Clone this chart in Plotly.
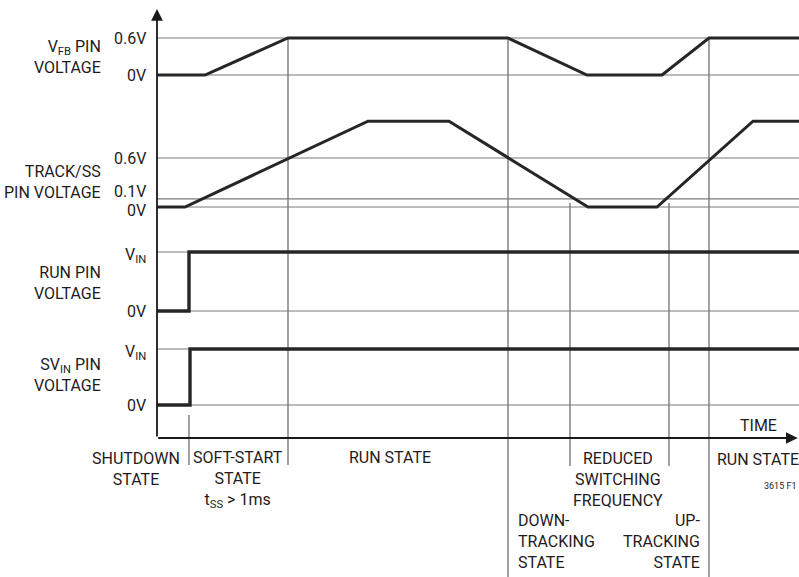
import plotly.graph_objects as go

# ---------------- data (time in arbitrary units, voltages per pin) ----------------
TIME_VFB = [0, 4.8, 13.1, 35.1, 43.0, 50.5, 55.2, 64.2]
V_FB = [0, 0, 0.6, 0.6, 0, 0, 0.6, 0.6]

TIME_TRACK = [0, 2.8, 21.1, 29.2, 43.1, 50.0, 59.6, 64.2]
V_TRACK = [0, 0, 1.05, 1.05, 0, 0, 1.05, 1.05]

TIME_RUN = [0, 3.2, 3.2, 64.2]
V_RUN = [0, 0, 1, 1]          # 1 = V_IN

TIME_SVIN = [0, 3.3, 3.3, 64.2]
V_SVIN = [0, 0, 1, 1]         # 1 = V_IN

LEVELS_VFB = [0, 0.6]
TICKS_VFB = ["0V", "0.6V"]
LEVELS_TRACK = [0, 0.1, 0.6]
TICKS_TRACK = ["0V", "0.1V", "0.6V"]
LEVELS_RUN = [0, 1]
TICKS_RUN = ["0V", "V<sub>IN</sub>"]
LEVELS_SVIN = [0, 1]
TICKS_SVIN = ["0V", "V<sub>IN</sub>"]

NAMES = ["V<sub>FB</sub> PIN<br>VOLTAGE", "TRACK/SS<br>PIN VOLTAGE",
         "RUN PIN<br>VOLTAGE", "SV<sub>IN</sub> PIN<br>VOLTAGE"]

T_END = 64.2

# ---------------- layout geometry ----------------
W, H = 799, 577
LEFT = 157
AXIS_PX = 438            # pixel row of the time axis (bottom of plot area)
FONT = "Roboto, Liberation Sans, sans-serif"
FS = 16
TXT = "#1f1b1c"
TRACE = "#262626"
GRID = "#7a7a7a"


def py(p):
    """pixel row -> paper fraction"""
    return (AXIS_PX - p) / AXIS_PX


def tx(t):
    """time -> paper fraction"""
    return t / T_END


# (axis, zero-level pixel row, reference-level pixel row, reference value)
PANELS = [("y", 75, 38, 0.6), ("y2", 207, 158, 0.6),
          ("y3", 311, 252, 1.0), ("y4", 405, 349, 1.0)]

series = [(TIME_VFB, V_FB), (TIME_TRACK, V_TRACK), (TIME_RUN, V_RUN), (TIME_SVIN, V_SVIN)]
levels = [LEVELS_VFB, LEVELS_TRACK, LEVELS_RUN, LEVELS_SVIN]
ticks = [TICKS_VFB, TICKS_TRACK, TICKS_RUN, TICKS_SVIN]
name_pos = [0.3, 0.31, 0.47, 0.53]
widths = [3, 3, 3.4, 3.4]

fig = go.Figure()
shapes = []
annotations = []

for i, (ax, p0, p1, v1) in enumerate(PANELS):
    ppu = (p0 - p1) / v1
    rng = [-(AXIS_PX - p0) / ppu, p0 / ppu]
    key = "yaxis" if ax == "y" else "yaxis" + ax[1:]
    cfg = dict(range=rng, visible=False, domain=[0, 1], fixedrange=True)
    if ax != "y":
        cfg["overlaying"] = "y"
    fig.update_layout({key: cfg})

    t, v = series[i]
    fig.add_trace(go.Scatter(x=t, y=v, mode="lines", yaxis=ax,
                             line=dict(color=TRACE, width=widths[i]),
                             hoverinfo="skip", showlegend=False))

    for lv, lab in zip(levels[i], ticks[i]):
        shapes.append(dict(type="line", xref="paper", yref=ax, x0=0, x1=1,
                           y0=lv, y1=lv, line=dict(color=GRID, width=1.2), layer="below"))
        ys = 0
        if "sub" in lab:
            ys = -3
        elif lab == "0.1V":
            ys = 7
        elif lab == "0V" and i == 1:
            ys = -3
        annotations.append(dict(xref="paper", yref=ax, x=0, y=lv, xanchor="right",
                                yanchor="middle", xshift=-9, yshift=ys,
                                text=lab, showarrow=False,
                                font=dict(family=FONT, size=FS, color=TXT)))
    annotations.append(dict(xref="paper", yref=ax, x=0, y=name_pos[i],
                            xanchor="right", yanchor="middle", xshift=-54, align="right",
                            text=NAMES[i], showarrow=False,
                            font=dict(family=FONT, size=FS, color=TXT)))

# vertical state boundaries: (time, top pixel, bottom pixel)
BOUNDS = [(3.2, 415, 465), (13.1, 38, 465), (35.1, 38, 577),
          (41.3, 203, 466), (51.2, 203, 466), (55.2, 38, 577)]
for t, top, bot in BOUNDS:
    shapes.append(dict(type="line", xref="x", yref="paper", x0=t, x1=t,
                       y0=py(bot), y1=py(top), line=dict(color=GRID, width=1.4), layer="below"))

# axes with arrowheads
annotations.append(dict(xref="paper", yref="paper", x=0, y=py(9), ax=0, ay=AXIS_PX - 9,
                        axref="pixel", ayref="pixel", text="", showarrow=True,
                        arrowhead=2, arrowsize=1.3, arrowwidth=1.8, arrowcolor="#1a1a1a"))
annotations.append(dict(xref="paper", yref="paper", x=0.998, y=0, ax=-(W - LEFT - 1), ay=0,
                        axref="pixel", ayref="pixel", text="", showarrow=True,
                        arrowhead=2, arrowsize=1.3, arrowwidth=1.8, arrowcolor="#1a1a1a"))

# state labels (time position, pixel row of block centre, text, anchor)
STATE_LABELS = [
    (-2.1, 468.5, "SHUTDOWN<br>STATE", "center"),
    (8.1, 479, "SOFT-START<br>STATE<br>t<sub>SS</sub> > 1ms", "center"),
    (23.3, 458, "RUN STATE", "center"),
    (46.1, 479, "REDUCED<br>SWITCHING<br>FREQUENCY", "center"),
    (35.9, 541, "DOWN-<br>TRACKING<br>STATE", "left"),
    (54.5, 541, "UP-<br>TRACKING<br>STATE", "right"),
    (60.05, 459, "RUN STATE", "center"),
    (60.1, 425, "TIME", "center"),
]
for t, prow, txt, anc in STATE_LABELS:
    annotations.append(dict(xref="paper", yref="paper", x=tx(t), y=py(prow), xanchor=anc,
                            yanchor="middle", align=anc, text=txt, showarrow=False,
                            font=dict(family=FONT, size=FS, color=TXT)))
annotations.append(dict(xref="paper", yref="paper", x=1, y=py(486), xanchor="right",
                        yanchor="middle", text="3615 F1", showarrow=False,
                        font=dict(family=FONT, size=9, color=TXT)))

fig.update_layout(
    width=W, height=H,
    margin=dict(l=LEFT, r=0, t=0, b=H - AXIS_PX, pad=0),
    paper_bgcolor="white", plot_bgcolor="white",
    xaxis=dict(range=[0, T_END], visible=False, fixedrange=True),
    shapes=shapes, annotations=annotations,
    showlegend=False,
)

fig.write_html("out.html", config={"displayModeBar": False},
               post_script="document.body.style.margin='0px';")
